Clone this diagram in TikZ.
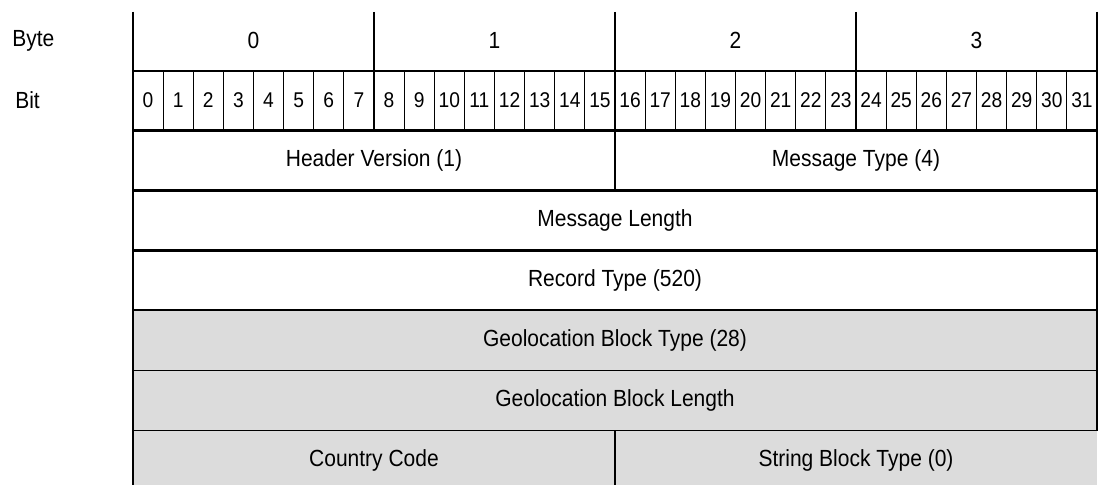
\documentclass[tikz,border=0pt]{standalone}
\usepackage{fontspec}
\setmainfont{Liberation Sans}[FakeStretch=0.9]
\usepackage{xcolor}
\usetikzlibrary{positioning}

\definecolor{geogray}{HTML}{DCDCDC}

\begin{document}
\begin{tikzpicture}[
    x=0.75pt, y=-0.75pt,
    font=\fontsize{17.5}{20}\selectfont,
    thickline/.style = {line width=1.6pt, black},
    thinline/.style  = {line width=0.8pt, black},
    rowlabel/.style  = {inner sep=0pt, anchor=west},
    bitnum/.style    = {inner sep=0pt, font=\fontsize{16}{18}\selectfont},
    field/.style = {
        rectangle, draw, line width=1.6pt, fill=white,
        minimum height=45pt, inner sep=0pt, outer sep=0pt,
        anchor=north west
    },
    full/.style = {field, minimum width=723pt},
    half/.style = {field, minimum width=361.5pt},
    geo/.style  = {fill=geogray, line width=1pt}
]
\useasboundingbox (0,0) rectangle (1100,485);
\clip (0,0) rectangle (1100,485);

% row labels
\node[rowlabel] (bytelbl) at (12,40.5) {Byte};
\node[rowlabel] (bitlbl)  at (15,100) {Bit};

% byte and bit numbers
\foreach \k in {0,...,3}
    \node (byte\k) at (133+241*\k+120.5,40.5) {\k};
\foreach \i in {0,...,31}
    \node[bitnum] (bit\i) at (133+30.125*\i+15.06,100) {\i};

% fields
\node[half] (hdr) at (133,130.5) {Header Version (1)};
\node[half, right=0pt of hdr] (mtype) {Message Type (4)};
\node[full, below=0pt of hdr.south west, anchor=north west] (mlen) {Message Length};
\node[full, below=0pt of mlen] (rtype) {Record Type (520)};
\node[full, geo, below=0pt of rtype] (gtype) {Geolocation Block Type (28)};
\node[full, geo, below=0pt of gtype] (glen) {Geolocation Block Length};
\node[half, geo, draw=none, below=0pt of glen.south west, anchor=north west] (ccode) {Country Code};
\node[half, geo, draw=none, right=0pt of ccode] (sbtype) {String Block Type (0)};

% grid lines
\draw[thickline] (133,71) -- (1097,71);
\foreach \i in {1,...,31}
    \draw[thinline] (133+30.125*\i,71) -- (133+30.125*\i,130.5);
\foreach \k in {0,...,4}
    \draw[thickline] (133+241*\k,12) -- (133+241*\k,130.5);
\draw[geo, draw=black, fill=none] (ccode.north west) -- (sbtype.north east);
\draw[thickline] (133,12) -- (ccode.south west);
\draw[thickline] (1097,12) -- (glen.south east);
\draw[thickline] (ccode.north east) -- (ccode.south east);
\end{tikzpicture}
\end{document}
